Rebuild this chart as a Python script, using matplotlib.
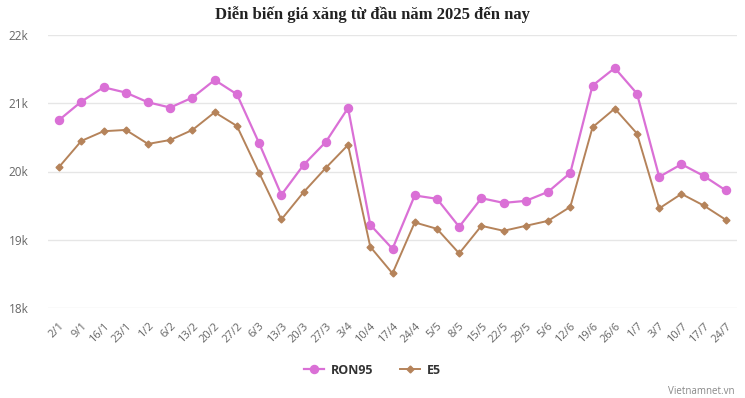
import matplotlib
matplotlib.use("Agg")
import matplotlib.pyplot as plt
from matplotlib.lines import Line2D

dates = ["2/1", "9/1", "16/1", "23/1", "1/2", "6/2", "13/2", "20/2", "27/2", "6/3",
         "13/3", "20/3", "27/3", "3/4", "10/4", "17/4", "24/4", "5/5", "8/5", "15/5",
         "22/5", "29/5", "5/6", "12/6", "19/6", "26/6", "1/7", "3/7", "10/7", "17/7", "24/7"]

ron95 = [20755, 21024, 21234, 21156, 21014, 20937, 21083, 21341, 21131, 20414,
         19658, 20097, 20433, 20931, 19219, 18867, 19649, 19600, 19190, 19609,
         19540, 19570, 19702, 19980, 21259, 21516, 21141, 19921, 20107, 19936, 19722]

e5 = [20067, 20448, 20590, 20609, 20404, 20462, 20609, 20868, 20667, 19980,
      19297, 19697, 20053, 20389, 18897, 18507, 19254, 19160, 18800, 19204,
      19131, 19204, 19277, 19482, 20648, 20922, 20556, 19459, 19672, 19502, 19292]

yticks = [18000, 19000, 20000, 21000, 22000]
ytick_labels = ["18k", "19k", "20k", "21k", "22k"]

c_ron = "#DA70D6"
c_e5 = "#B5835A"

fig = plt.figure(figsize=(7.45, 3.98), dpi=100)
ax = fig.add_axes([48/745, 1-308/398, (737-48)/745, (308-35)/398])

x = list(range(len(dates)))
ax.plot(x, ron95, color=c_ron, lw=1.6, marker="o", ms=5.8, zorder=3)
ax.plot(x, e5, color=c_e5, lw=1.4, marker="D", ms=3.5, zorder=3)

ax.set_xlim(-0.5, len(dates) - 0.5)
ax.set_ylim(18000, 22000)
ax.set_yticks(yticks)
ax.set_yticklabels(ytick_labels, fontsize=8.5, color="#666666", family="Open Sans")
ax.set_xticks(x)
ax.set_xticklabels(dates, rotation=45, ha="right", rotation_mode="anchor",
                   fontsize=8, color="#666666", family="Open Sans")
ax.tick_params(axis="both", length=0)
ax.tick_params(axis="y", pad=14)
ax.tick_params(axis="x", pad=9)
ax.grid(axis="y", color="#e6e6e6", lw=1)
ax.set_axisbelow(True)
for s in ax.spines.values():
    s.set_visible(False)

fig.text(0.5, 1-15/398, "Diễn biến giá xăng từ đầu năm 2025 đến nay",
         ha="center", va="center", fontsize=12, fontweight="bold",
         family="Liberation Serif", color="#222222")

handles = [Line2D([0], [0], color=c_ron, lw=1.6, marker="o", ms=5.8),
           Line2D([0], [0], color=c_e5, lw=1.4, marker="D", ms=3.5)]
leg = fig.legend(handles, ["RON95", "E5"], loc="center", bbox_to_anchor=(0.5, 1-370/398),
                 ncol=2, frameon=False, prop={"family": "Open Sans", "weight": "bold", "size": 9},
                 handlelength=1.6, columnspacing=2.2, handletextpad=0.5)
for t in leg.get_texts():
    t.set_color("#333333")

fig.text(735/745, 1-391/398, "Vietnamnet.vn", ha="right", va="center",
         fontsize=7, color="#888888", family="Open Sans")

fig.savefig("out.png", dpi=100)
